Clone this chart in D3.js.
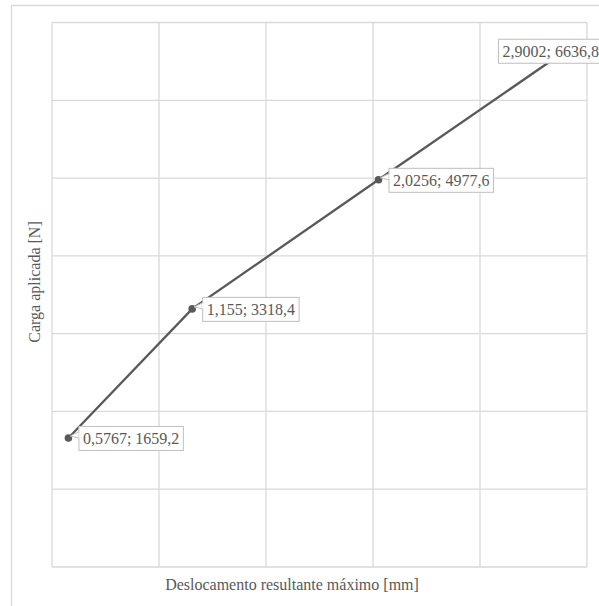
<!DOCTYPE html>
<html><head><meta charset="utf-8">
<script src="https://cdn.jsdelivr.net/npm/d3@7"></script>
<style>body{margin:0;background:#fff}svg{display:block}
text{font-family:"Times New Roman","Liberation Serif","DejaVu Serif",serif;}</style>
</head><body>
<script>
const xValues = [0.5767, 1.155, 2.0256, 2.9002];
const yValues = [1659.2, 3318.4, 4977.6, 6636.8];
const labels = ["0,5767; 1659,2", "1,155; 3318,4", "2,0256; 4977,6", "2,9002; 6636,8"];
const xTicks = [0.5, 1, 1.5, 2, 2.5, 3];
const yTicks = [0, 1000, 2000, 3000, 4000, 5000, 6000, 7000];
const xTitle = "Deslocamento resultante máximo [mm]";
const yTitle = "Carga aplicada [N]";

const W = 599, H = 606;
const svg = d3.select("body").append("svg").attr("width", W).attr("height", H);
const grid = "#d9d9d9", ink = "#595959";

svg.append("path").attr("d", `M11.5,${H} V5.5 H${W}`).attr("fill","none").attr("stroke", grid).attr("stroke-width",1.3);

const x = d3.scaleLinear().domain([0.5, 3]).range([52, 587]);
const y = d3.scaleLinear().domain([0, 7000]).range([567, 22.5]);

const g = svg.append("g");
g.selectAll("line.v").data(xTicks).join("line")
  .attr("x1", d => x(d)).attr("x2", d => x(d)).attr("y1", y(0)).attr("y2", y(7000))
  .attr("stroke", grid).attr("stroke-width", 1.3);
g.selectAll("line.h").data(yTicks).join("line")
  .attr("y1", d => y(d)).attr("y2", d => y(d)).attr("x1", x(0.5)).attr("x2", x(3))
  .attr("stroke", grid).attr("stroke-width", 1.3);

const pts = xValues.map((v, i) => ({x: v, y: yValues[i], label: labels[i]}));
svg.append("path").datum(pts)
  .attr("d", d3.line().x(d => x(d.x)).y(d => y(d.y)))
  .attr("fill", "none").attr("stroke", ink).attr("stroke-width", 2.3);
svg.selectAll("circle.pt").data(pts).join("circle")
  .attr("cx", d => x(d.x)).attr("cy", d => y(d.y)).attr("r", 3.8).attr("fill", ink);

pts.forEach((d, i) => {
  const px = x(d.x), py = y(d.y);
  const lg = svg.append("g");
  const t = lg.append("text").text(d.label)
    .attr("font-size", 16).attr("fill", ink);
  const tw = t.node().getComputedTextLength();
  const bw = tw + 8, bh = 24;
  let bx = px + 10;
  if (bx + bw > W + 12) bx = 498;
  const by = py - bh / 2;
  if (i < 3) {
    lg.insert("path", "text")
      .attr("d", `M${bx},${by + 6} L${px + 2},${py - 2} L${bx},${by + 12} Z`)
      .attr("fill", "#fff").attr("stroke", "#bfbfbf").attr("stroke-width", 1);
  }
  lg.insert("rect", "text").attr("x", bx + 0.5).attr("y", by + 0.5).attr("width", bw).attr("height", bh)
    .attr("fill", "#fff").attr("stroke", "#bfbfbf").attr("stroke-width", 1);
  if (i < 3) {
    lg.insert("line", "text").attr("x1", bx + 0.5).attr("x2", bx + 0.5).attr("y1", by + 6.5).attr("y2", by + 11.5)
      .attr("stroke", "#fff").attr("stroke-width", 1.2);
  }
  t.attr("x", bx + 4.5).attr("y", by + 18);
});

svg.append("text").text(xTitle).attr("x", 292).attr("y", 590)
  .attr("text-anchor", "middle").attr("font-size", 16).attr("fill", ink);
svg.append("text").text(yTitle)
  .attr("transform", "translate(40,282) rotate(-90)")
  .attr("text-anchor", "middle").attr("font-size", 16).attr("fill", ink);
</script>
</body></html>
